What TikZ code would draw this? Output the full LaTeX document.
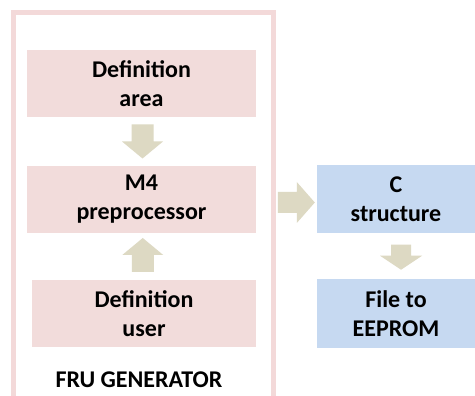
\documentclass[tikz,border=0pt]{standalone}
\usepackage{fontspec}
\setmainfont{Carlito}
\usetikzlibrary{calc}
\definecolor{pinkfill}{HTML}{F2DCDB}
\definecolor{bluefill}{HTML}{C6D9F1}
\definecolor{arrowfill}{HTML}{DDD9C3}
\definecolor{framecol}{HTML}{F3D9D9}
\tikzset{
  lbl/.style={font=\fontsize{24}{29}\selectfont\bfseries, align=center, text=black},
  pbox/.style={lbl, fill=pinkfill, inner sep=0pt, minimum height=67pt},
  bbox/.style={lbl, fill=bluefill, inner sep=0pt, minimum height=68pt, minimum width=158pt},
  pics/barrow/.style args={#1/#2/#3/#4}{code={
    \fill[arrowfill] (-#1/2,-#3/2) -- (#1/2-#2,-#3/2) -- (#1/2-#2,-#4/2) -- (#1/2,0)
      -- (#1/2-#2,#4/2) -- (#1/2-#2,#3/2) -- (-#1/2,#3/2) -- cycle;
  }}
}
\begin{document}
\begin{tikzpicture}[x=1pt,y=-1pt]
\useasboundingbox (0,0) rectangle (475,396);
\clip (0,0) rectangle (475,396);
\fill[white] (0,0) rectangle (475,396);
% frame
\draw[framecol, line width=5pt] (13,13) rectangle (273.5,420);
% boxes
\node[pbox, minimum width=229pt] (da) at (141.5,83.5) {Definition\\area};
\node[pbox, minimum width=229pt] (m4) at (141.5,199.5) {M4\\preprocessor};
\node[pbox, minimum width=224pt] (du) at (144,313.5) {Definition\\user};
\node[bbox] (c) at (396,199) {C\\structure};
\node[bbox] (f) at (396,313.5) {File to\\EEPROM};
\node[lbl] (fru) at (139,380) {FRU GENERATOR};
% block arrows
\pic[rotate=-90] at ($(da.south)!0.5!(m4.north)+(1,0)$) {barrow=34/17/22/41};
\pic[rotate=90] at ($(m4.south)!0.5!(du.north)+(0,-1.5)$) {barrow=34/17/22/41};
\pic at ($(c.west)+(-20.5,3.5)$) {barrow=37/18/21/41};
\pic[rotate=-90] at ($(c.south)!0.5!(f.north)+(5,1)$) {barrow=25/14/20/42};
\end{tikzpicture}
\end{document}
